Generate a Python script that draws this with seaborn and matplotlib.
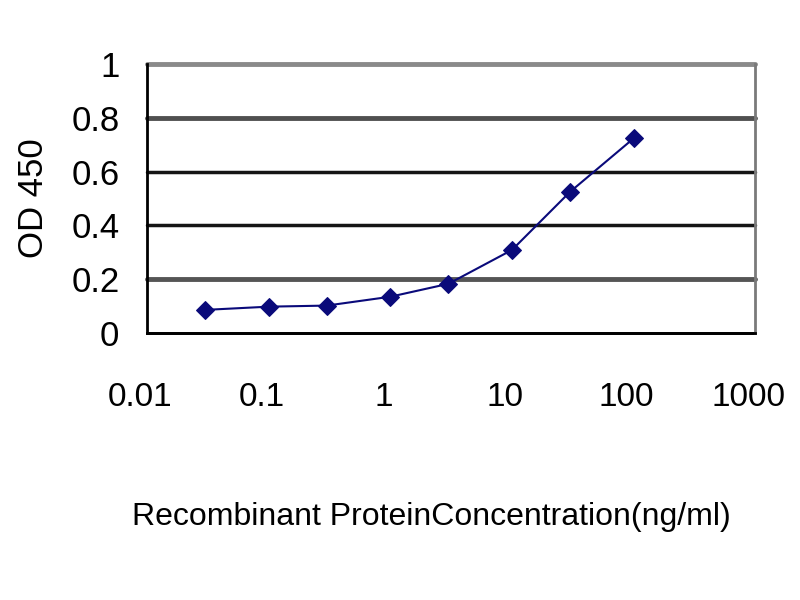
import matplotlib
matplotlib.use("Agg")
import matplotlib.pyplot as plt
import matplotlib.transforms as mtransforms
import seaborn as sns
import pandas as pd

concentration = [0.03, 0.1, 0.3, 1, 3, 10, 30, 100]
od450 = [0.086, 0.098, 0.102, 0.135, 0.183, 0.309, 0.525, 0.724]
x_ticks = [0.01, 0.1, 1, 10, 100, 1000]
x_tick_labels = ["0.01", "0.1", "1", "10", "100", "1000"]
y_ticks = [0, 0.2, 0.4, 0.6, 0.8, 1.0]
y_tick_labels = ["0", "0.2", "0.4", "0.6", "0.8", "1"]

sns.set_style("white")
plt.rcParams['font.family'] = ['Liberation Sans', 'DejaVu Sans']

df = pd.DataFrame({"conc": concentration, "od": od450})

fig = plt.figure(figsize=(8, 6), dpi=100)
ax = fig.add_axes([0.184, 0.445, 0.76, 0.448])

ax.set_xscale("log")
ax.set_xlim(0.01, 1000)
ax.set_ylim(0, 1)

ax.set_yticks(y_ticks)
ax.set_yticklabels(y_tick_labels)
ax.set_xticks(x_ticks)
ax.set_xticklabels(x_tick_labels)
ax.minorticks_off()

ax.yaxis.grid(True, color="#3c3c3c", linewidth=3)
ax.set_axisbelow(True)
grid_styles = [("#000000", 2), ("#555555", 3.5), ("#151515", 2.5),
               ("#151515", 2.5), ("#505050", 3.5), ("#8a8a8a", 3.5)]
for gl, (c, w) in zip(ax.get_ygridlines(), grid_styles):
    gl.set_color(c)
    gl.set_linewidth(w)
    gl.set_clip_on(False)

sns.lineplot(data=df, x="conc", y="od", ax=ax, color="#0a0a7a", linewidth=1.5,
             marker="D", markersize=9, markeredgecolor="#0a0a7a", zorder=5)

for s in ["left", "bottom"]:
    ax.spines[s].set_color("black")
    ax.spines[s].set_linewidth(2)
ax.spines["right"].set_color("#7a7a7a")
ax.spines["right"].set_linewidth(2)
ax.spines["top"].set_visible(False)

ax.tick_params(axis="x", direction="in", length=6, width=1.5, pad=35,
               labelsize=24, colors="black")
ax.tick_params(axis="y", direction="out", length=4, width=1.5, pad=16,
               labelsize=25, colors="black")

shift = mtransforms.ScaledTranslation(-7 / 100, 0, fig.dpi_scale_trans)
for lbl in ax.get_xticklabels():
    lbl.set_transform(lbl.get_transform() + shift)

ax.set_xlabel("Recombinant ProteinConcentration(ng/ml)", fontsize=23, color="black")
ax.xaxis.set_label_coords((431 - 147) / 608, -(517 - 333) / 269, transform=ax.transAxes)
ax.xaxis.label.set_verticalalignment("center")
ax.set_ylabel("OD 450", fontsize=25, color="black")
ax.yaxis.set_label_coords(-(147 - 33) / 608, (333 - 198) / 269, transform=ax.transAxes)
ax.yaxis.label.set_verticalalignment("center")

fig.savefig("out.png", dpi=100, facecolor="white")
